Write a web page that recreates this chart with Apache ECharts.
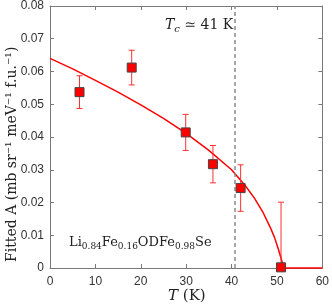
<!DOCTYPE html>
<html><head><meta charset="utf-8">
<script src="https://cdn.jsdelivr.net/npm/echarts@6/dist/echarts.min.js"></script>
<style>html,body{margin:0;padding:0;background:#fff}#c{width:332px;height:307px}</style>
</head><body><div id="c"></div>
<script>
// Measured points
var pointT = [6.5, 18.0, 29.9, 35.9, 42.0, 50.9];
var pointA = [0.0537, 0.0612, 0.0414, 0.0317, 0.0244, 0.0002];
var pointErr = [0.0050, 0.0053, 0.0055, 0.0057, 0.0071, 0.0199];
// Fitted curve
var curveT = [0, 5, 10, 15, 20, 25, 30, 35, 40, 43, 45, 47, 48.5, 49.5, 50.3, 51.0, 51.5, 60];
var curveA = [0.0640, 0.0608, 0.0573, 0.0537, 0.0498, 0.0457, 0.0411, 0.0359, 0.0300, 0.0252, 0.0214, 0.0168, 0.0125, 0.0092, 0.0058, 0.0025, 0, 0];
var tcLine = 40.8;
var xTicks = [0, 10, 20, 30, 40, 50, 60];
var yTicks = [0, 0.01, 0.02, 0.03, 0.04, 0.05, 0.06, 0.07, 0.08];

var chart = echarts.init(document.getElementById('c'), null, {renderer: 'canvas'});
var axisCol = '#7a7a7a';
var serif = '"DejaVu Serif", "Liberation Serif", serif';
var sans = '"Liberation Sans", Arial, sans-serif';

var errData = pointT.map(function (t, i) { return [t, pointA[i] - pointErr[i], pointA[i] + pointErr[i]]; });
var curveData = curveT.map(function (t, i) { return [t, curveA[i]]; });
var ptData = pointT.map(function (t, i) { return [t, pointA[i]]; });

function baseX(pos, show) {
  return {
    type: 'value', position: pos, min: xTicks[0], max: xTicks[xTicks.length - 1], interval: 10,
    axisLine: {show: true, onZero: false, lineStyle: {color: axisCol, width: 1}},
    axisTick: {show: true, inside: true, length: 4, lineStyle: {color: axisCol}},
    axisLabel: {show: show, color: '#333', fontFamily: sans, fontSize: 12, margin: 8},
    splitLine: {show: false}
  };
}
function baseY(pos, show) {
  return {
    type: 'value', position: pos, min: yTicks[0], max: yTicks[yTicks.length - 1], interval: 0.01,
    axisLine: {show: true, onZero: false, lineStyle: {color: axisCol, width: 1}},
    axisTick: {show: true, inside: true, length: 4, lineStyle: {color: axisCol}},
    axisLabel: {show: show, color: '#333', fontFamily: sans, fontSize: 12, margin: 6,
      formatter: function (v) { return v === 0 ? '0' : v.toFixed(2); }},
    splitLine: {show: false}
  };
}
var xa = [baseX('bottom', true), baseX('top', false)];
var ya = [baseY('left', true), baseY('right', false)];

chart.setOption({
  animation: false,
  backgroundColor: '#fff',
  grid: {left: 50, right: 8, top: 5, bottom: 39, containLabel: false},
  xAxis: xa,
  yAxis: ya,
  series: [
    {
      type: 'line', data: curveData, showSymbol: false, symbol: 'none',
      lineStyle: {color: '#ff0000', width: 1.5}, z: 3, clip: false,
      markLine: {
        silent: true, symbol: 'none', label: {show: false},
        lineStyle: {color: '#8a8a8a', type: [4, 3], width: 1.5},
        data: [{xAxis: tcLine}]
      }
    },
    {
      type: 'custom', data: errData, z: 4,
      renderItem: function (params, api) {
        var x = api.value(0);
        var lo = Math.max(0, api.value(1));
        var hi = api.value(2);
        var pLo = api.coord([x, lo]);
        var pHi = api.coord([x, hi]);
        var cw = 3;
        var st = {stroke: '#ff3030', lineWidth: 1};
        var kids = [
          {type: 'line', shape: {x1: pLo[0], y1: pLo[1], x2: pHi[0], y2: pHi[1]}, style: st},
          {type: 'line', shape: {x1: pHi[0] - cw, y1: pHi[1], x2: pHi[0] + cw, y2: pHi[1]}, style: st}
        ];
        if (api.value(1) > 0) {
          kids.push({type: 'line', shape: {x1: pLo[0] - cw, y1: pLo[1], x2: pLo[0] + cw, y2: pLo[1]}, style: st});
        }
        return {type: 'group', children: kids};
      }
    },
    {
      type: 'scatter', data: ptData, symbol: 'rect', symbolSize: 9, z: 5,
      itemStyle: {color: '#ff0000', borderColor: '#444', borderWidth: 1, opacity: 1}
    }
  ],
  graphic: [
    {
      type: 'text', left: 165, top: 18,
      style: {
        rich: {
          i: {fontFamily: serif, fontStyle: 'italic', fontSize: 14, fill: '#222', lineHeight: 18, verticalAlign: 'middle'},
          s: {fontFamily: serif, fontStyle: 'italic', fontSize: 10, fill: '#222', lineHeight: 18, verticalAlign: 'bottom'},
          n: {fontFamily: serif, fontSize: 14, fill: '#222', lineHeight: 18, verticalAlign: 'middle'}
        },
        text: '{i|T}{s|c}{n| ≃ 41 K}'
      }
    },
    {
      type: 'text', left: 69, top: 236,
      style: {
        rich: {
          n: {fontFamily: serif, fontSize: 13, fill: '#222', lineHeight: 18, verticalAlign: 'middle'},
          s: {fontFamily: serif, fontSize: 9, fill: '#222', lineHeight: 18, verticalAlign: 'bottom'}
        },
        text: '{n|Li}{s|0.84}{n|Fe}{s|0.16}{n|ODFe}{s|0.98}{n|Se}'
      }
    },
    {
      type: 'text', left: 168, top: 289,
      style: {
        rich: {
          i: {fontFamily: serif, fontStyle: 'italic', fontSize: 15, fill: '#222'},
          n: {fontFamily: serif, fontSize: 15, fill: '#222'}
        },
        text: '{i|T}{n| (K)}'
      }
    },
    {
      type: 'text', x: 5, y: 262, rotation: Math.PI / 2,
      style: {
        fontFamily: serif, fontSize: 14, fill: '#222',
        text: 'Fitted A (mb sr⁻¹ meV⁻¹ f.u.⁻¹)'
      }
    }
  ]
});
</script>
</body></html>
